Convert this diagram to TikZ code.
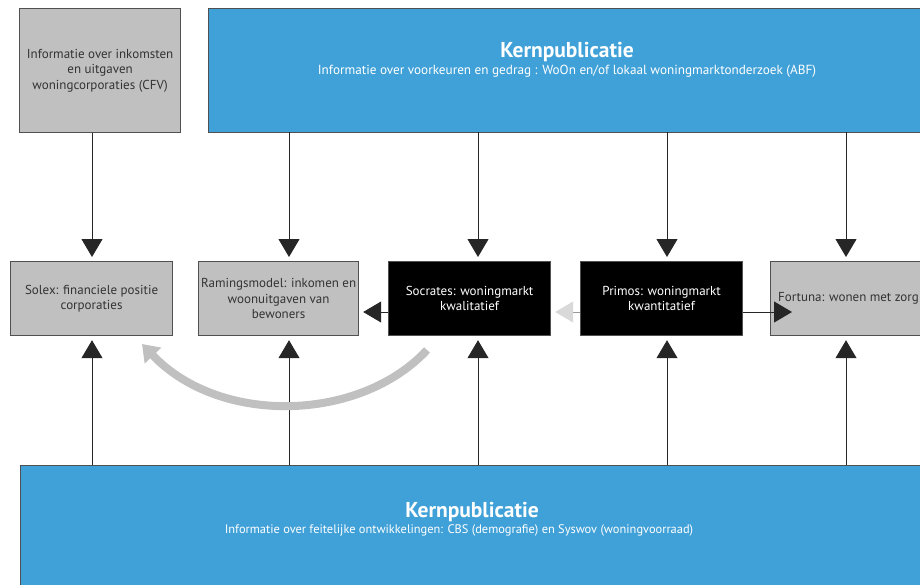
\documentclass[tikz,border=0pt]{standalone}
\usepackage{fontspec}
\setmainfont{PT Sans}
\usetikzlibrary{arrows.meta}
\definecolor{kblue}{RGB}{64,161,216}
\definecolor{kgray}{RGB}{192,192,192}
\definecolor{kedge}{RGB}{80,80,80}
\tikzset{
  graybox/.style={draw=kedge, line width=1.2pt, fill=kgray, anchor=north west, inner sep=0pt, align=center, font=\fontsize{13}{15.5}\selectfont, text=black!80},
  blackbox/.style={draw=kedge, line width=1.2pt, fill=black, anchor=north west, inner sep=0pt, align=center, font=\fontsize{13}{15}\selectfont, text=white},
  bluebox/.style={draw=kedge, line width=1.2pt, fill=kblue, anchor=north west, inner sep=0pt},
  conn/.style={draw=black!85, line width=1pt, shorten >=4pt, -{Triangle[width=21pt,length=18pt]}},
  gconn/.style={draw=black!40, line width=1pt, shorten >=4pt, -{Triangle[width=21pt,length=18pt,color=kgray!60]}},
  bigarc/.style={draw=kgray, line width=8pt, -{Triangle[width=22pt,length=16pt]}},
}
\begin{document}
\begin{tikzpicture}[x=1pt,y=-1pt]
\useasboundingbox (0,0) rectangle (920,584);
\clip (0,0) rectangle (920,584);
% boxes
\node[graybox, minimum width=161pt, minimum height=124pt] (cfv) at (19,8) {Informatie over inkomsten\\en uitgaven\\woningcorporaties (CFV)};
\node[bluebox, minimum width=720pt, minimum height=124pt] (top) at (208,8) {};
\node[text=white, font=\fontsize{21.5}{24}\selectfont\bfseries] (toptitle) at (567,52) {Kernpublicatie};
\node[text=white, font=\fontsize{13.2}{15}\selectfont] (topsub) at (567,71) {Informatie over voorkeuren en gedrag : WoOn en/of lokaal woningmarktonderzoek (ABF)};

\node[graybox, minimum width=162pt, minimum height=74pt] (solex) at (10,261) {Solex: financiele positie\\corporaties};
\node[graybox, minimum width=160pt, minimum height=74pt] (raming) at (198,261) {Ramingsmodel: inkomen en\\woonuitgaven van\\bewoners};
\node[blackbox, minimum width=162pt, minimum height=74pt] (socr) at (388,261) {Socrates: woningmarkt\\kwalitatief};
\node[blackbox, minimum width=162pt, minimum height=74pt] (prim) at (580,261) {Primos: woningmarkt\\kwantitatief};
\node[graybox, minimum width=170pt, minimum height=74pt] (fort) at (770,261) {};
\node[anchor=west, font=\fontsize{13}{15}\selectfont, text=black!80, inner sep=0pt] (forttext) at (778,298) {Fortuna: wonen met zorg};

\node[bluebox, minimum width=920pt, minimum height=130pt] (bot) at (20,465) {};
\node[text=white, font=\fontsize{21.5}{24}\selectfont\bfseries] (bottitle) at (472,512) {Kernpublicatie};
\node[text=white, font=\fontsize{12.4}{14}\selectfont] (botsub) at (459,530) {Informatie over feitelijke ontwikkelingen: CBS (demografie) en Syswov (woningvoorraad)};

% coordinates on top and bottom boxes
\foreach \x/\n in {289/a,478/b,667/c,846/d}{
  \coordinate (t\n) at (\x,132);
}
\foreach \x/\n in {92/o,289/a,478/b,667/c,846/d}{
  \coordinate (b\n) at (\x,465);
}
% top-down arrows
\draw[conn] (cfv.south -| bo) -- (solex.north -| bo);
\draw[conn] (ta) -- (raming.north -| ta);
\draw[conn] (tb) -- (socr.north -| tb);
\draw[conn] (tc) -- (prim.north -| tc);
\draw[conn] (td) -- (fort.north -| td);
% bottom-up arrows
\draw[conn] (bo) -- (solex.south -| bo);
\draw[conn] (ba) -- (raming.south -| ba);
\draw[conn] (bb) -- (socr.south -| bb);
\draw[conn] (bc) -- (prim.south -| bc);
\draw[conn] (bd) -- (fort.south -| bd);
% horizontal arrows
\coordinate (fortin) at (792,312);
\draw[conn] (socr.west |- 0,312) -- (raming.east |- 0,312);
\draw[gconn] (prim.west |- 0,312) -- (socr.east |- 0,312);
\draw[conn, shorten >=0pt] (prim.east |- 0,312) -- (fortin);
% big curved arrow
\coordinate (arcs) at (427,350);
\coordinate (arce) at (142,344);
\draw[bigarc] (arcs) .. controls (360,422) and (220,426) .. (arce);
\end{tikzpicture}
\end{document}
